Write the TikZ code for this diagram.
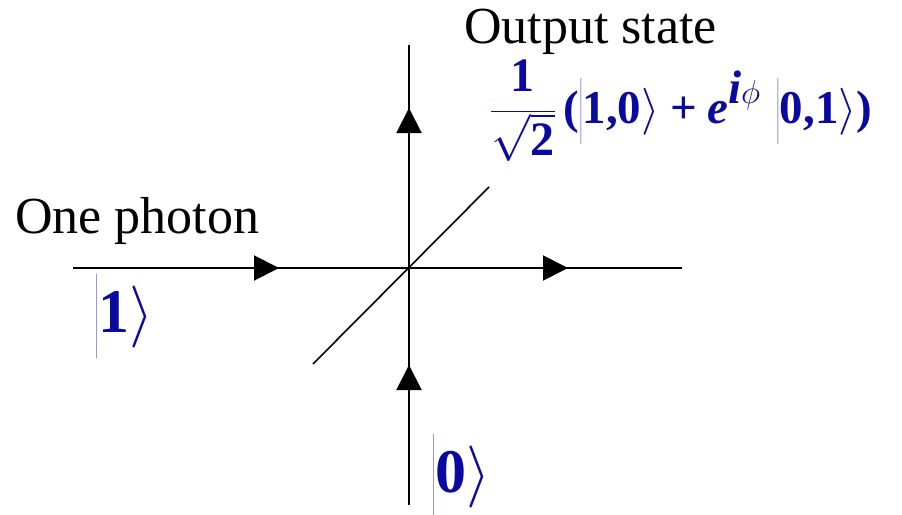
\RequirePackage{fix-cm}
\documentclass[tikz,border=0pt]{standalone}
\usepackage{fontspec}
\setmainfont{Liberation Serif}
\usetikzlibrary{arrows.meta}
\definecolor{ketblue}{RGB}{10,10,160}
\tikzset{
  axis/.style={line width=2pt, black},
  splitter/.style={line width=1.6pt, black},
  tip/.style={line width=2pt, -{Triangle[length=25pt,width=25pt]}},
  plaintext/.style={inner sep=0pt, font=\fontsize{52}{60}\selectfont},
  ketlabel/.style={inner sep=0pt, text=ketblue, font=\fontsize{62}{70}\selectfont\bfseries},
  formula/.style={inner sep=0pt, text=ketblue, font=\fontsize{47}{54}\selectfont\bfseries},
}
\newcommand{\kstrut}{\rule[-0.42em]{0pt}{1.12em}}
\newcommand{\fstrut}{\rule[-0.45em]{0pt}{1.22em}}
\newcommand{\fracdigit}[1]{\mbox{\fontsize{48}{48}\selectfont #1}}
\begin{document}
\begin{tikzpicture}[x=1pt,y=-1pt]
\useasboundingbox (0,0) rectangle (902,514);
% coordinates
\coordinate (inL) at (73,268);
\coordinate (c) at (409,268);
\coordinate (outR) at (682,268);
\coordinate (inB) at (409,505);
\coordinate (outT) at (409,45);
\coordinate (bsA) at (313,364);
\coordinate (bsB) at (489,187);
\coordinate (hA) at (279,268);
\coordinate (hB) at (568,268);
\coordinate (vA) at (409,365);
\coordinate (vB) at (409,108);
% lines
\draw[axis] (inL) -- (outR);
\draw[axis] (inB) -- (outT);
\draw[splitter] (bsA) -- (bsB);
% arrowheads
\draw[tip] (inL) -- (hA);
\draw[tip] (c) -- (hB);
\draw[tip] (inB) -- (vA);
\draw[tip] (c) -- (vB);
% texts
\node[plaintext, anchor=base west] (one) at (15,233) {One photon};
\node[plaintext, anchor=base west] (out) at (464,43) {Output state};
\node[ketlabel, anchor=base west] (k1) at (95,332) {$\left\vert\textbf{1}\kstrut\right\rangle$};
\node[ketlabel, anchor=base west] (k0) at (432,492) {$\left\vert\textbf{0}\kstrut\right\rangle$};
\node[formula, anchor=base west] (st) at (490,123) {$\displaystyle\frac{\fracdigit{1}}{\sqrt{\fracdigit{2}}}\,\mathopen{\mbox{(}}\left\vert\textbf{1,0}\fstrut\right\rangle\mathbin{\textbf{+}}\textbf{\textit{e}}^{\textbf{\textit{i}}\phi}\,\left\vert\textbf{0,1}\fstrut\right\rangle\mathclose{\mbox{)}}$};
\end{tikzpicture}
\end{document}
